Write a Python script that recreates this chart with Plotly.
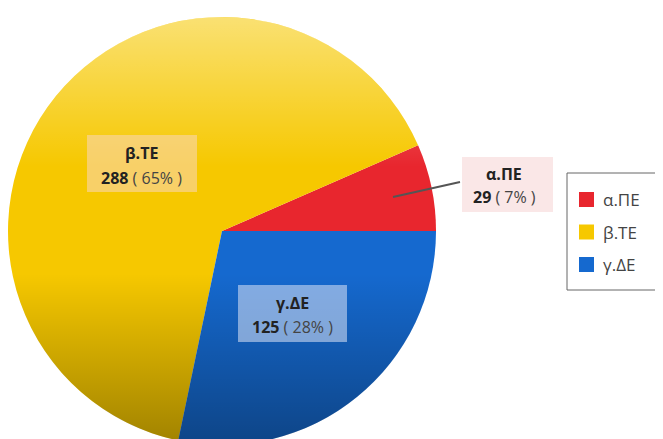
import plotly.graph_objects as go
from urllib.parse import quote

# data
labels = ["α.ΠΕ", "β.ΤΕ", "γ.ΔΕ"]
values = [29, 288, 125]
colors = ["#e8262e", "#f6c800", "#1569cf"]

W, H = 663, 439
OFF = 8  # page body margin
total = sum(values)
pcts = [round(v / total * 100) for v in values]


def px(x):
    return (x - OFF) / W


def py(y):
    return 1 - (y - OFF) / H


fig = go.Figure()

# pie geometry in screen pixels
cx, cy, r = 222, 231, 214
fig.add_trace(go.Pie(
    labels=labels,
    values=values,
    sort=False,
    direction="counterclockwise",
    rotation=90 - 360 * values[0] / total,
    marker=dict(colors=colors, line=dict(width=0)),
    textinfo="none",
    hoverinfo="label+value+percent",
    showlegend=False,
    domain=dict(x=[px(cx - r), px(cx + r)], y=[py(cy + r), py(cy - r)]),
))

# soft shading over the pie
svg = ("<svg xmlns='http://www.w3.org/2000/svg' width='100' height='100'>"
       "<defs><linearGradient id='g' x1='0' y1='0' x2='0' y2='1'>"
       "<stop offset='0' stop-color='white' stop-opacity='0.45'/>"
       "<stop offset='0.35' stop-color='white' stop-opacity='0'/>"
       "<stop offset='0.6' stop-color='black' stop-opacity='0'/>"
       "<stop offset='1' stop-color='black' stop-opacity='0.35'/>"
       "</linearGradient></defs>"
       "<circle cx='50' cy='50' r='50' fill='url(#g)'/></svg>")
fig.add_layout_image(
    source="data:image/svg+xml;charset=utf-8," + quote(svg),
    xref="paper", yref="paper",
    x=px(cx - r), y=py(cy - r),
    sizex=2 * r / W, sizey=2 * r / H,
    xanchor="left", yanchor="top", sizing="stretch", layer="above",
)

# label boxes: (x0, y0, x1, y1, background, text centre x, line1 y, line2 y)
boxes = [
    (462, 157, 553, 212, "rgba(240,185,185,0.35)", 504, 174, 197),
    (87, 135, 197, 192, "rgba(250,215,190,0.55)", 141, 153, 178),
    (238, 285, 347, 342, "rgba(220,228,245,0.55)", 292, 303, 327),
]
for lab, v, p, (x0, y0, x1, y1, bg, tx, l1, l2) in zip(labels, values, pcts, boxes):
    fig.add_shape(type="rect", xref="paper", yref="paper", layer="above",
                  x0=px(x0), x1=px(x1), y0=py(y0), y1=py(y1),
                  line=dict(width=0), fillcolor=bg)
    fig.add_annotation(x=px(tx), y=py(l1), xref="paper", yref="paper",
                       xanchor="center", yanchor="middle", showarrow=False,
                       text=f"<b>{lab}</b>",
                       font=dict(family="Open Sans", size=16, color="#222"))
    fig.add_annotation(x=px(tx), y=py(l2), xref="paper", yref="paper",
                       xanchor="center", yanchor="middle", showarrow=False,
                       text=f"<b>{v}</b><span style='color:#444'> ( {p}% )</span>",
                       font=dict(family="Open Sans", size=16, color="#222"))

# leader line for the small slice
fig.add_shape(type="line", xref="paper", yref="paper",
              x0=px(393), y0=py(197), x1=px(460), y1=py(182),
              line=dict(color="#555", width=2))

# legend
fig.add_shape(type="rect", xref="paper", yref="paper",
              x0=px(567), y0=py(173), x1=px(700), y1=py(290),
              line=dict(color="#666", width=1), fillcolor="white")
for i, (lab, c) in enumerate(zip(labels, colors)):
    yc = 199.5 + i * 32.5
    fig.add_shape(type="rect", xref="paper", yref="paper",
                  x0=px(579), x1=px(594), y0=py(yc - 7.5), y1=py(yc + 7.5),
                  line=dict(width=0), fillcolor=c)
    fig.add_annotation(x=px(601), y=py(yc), xref="paper", yref="paper",
                       text=lab, showarrow=False, xanchor="left",
                       font=dict(family="Open Sans", size=17, color="#444"))

fig.update_layout(
    width=W, height=H,
    margin=dict(l=0, r=0, t=0, b=0),
    paper_bgcolor="white",
    plot_bgcolor="white",
)

fig.write_html("out.html")
